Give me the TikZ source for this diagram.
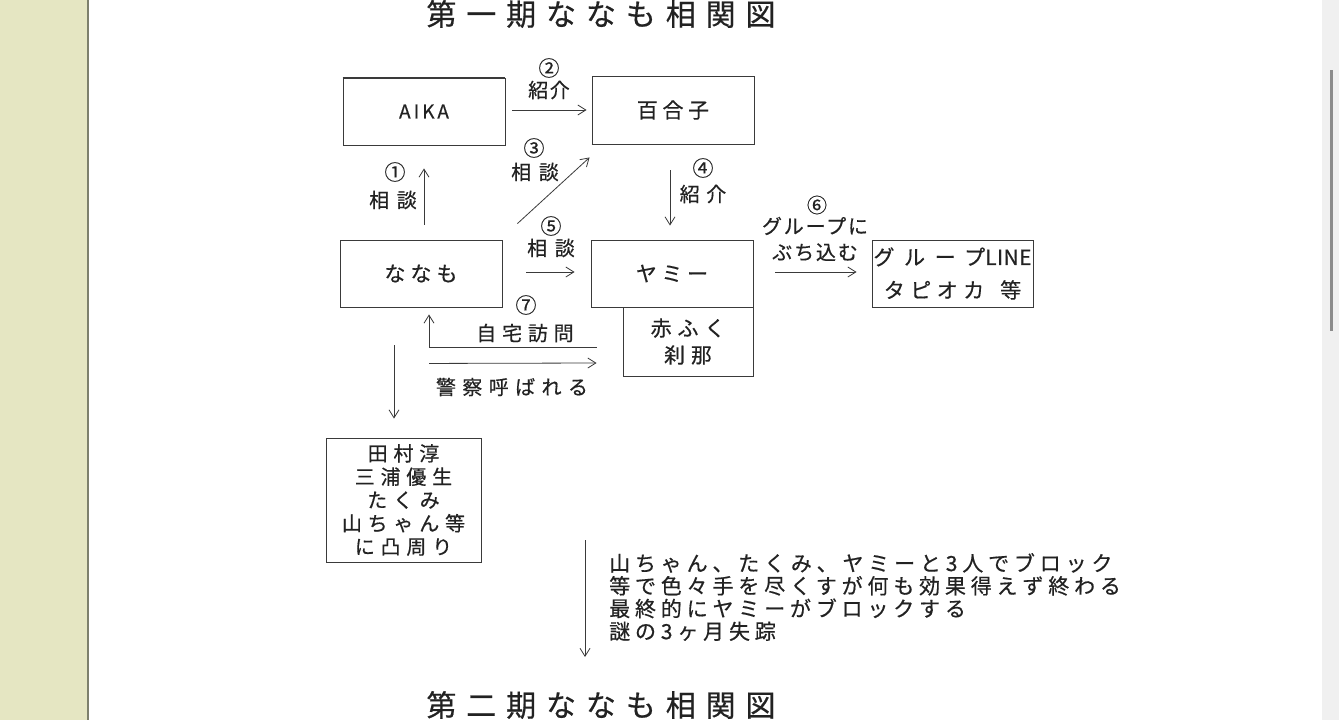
\documentclass[tikz,border=0pt]{standalone}
\usepackage{fontspec}
\setmainfont[FakeBold=0.5]{Noto Sans CJK JP}
\usetikzlibrary{arrows.meta,calc}
\definecolor{sidebar}{HTML}{E5E6C2}
\definecolor{sideline}{HTML}{7D806C}
\definecolor{scrollbg}{HTML}{F0F0F0}
\definecolor{thumb}{HTML}{8C8C8C}
\definecolor{ink}{HTML}{222222}
\definecolor{lineink}{HTML}{3A3A3A}
\newcommand\fsz[2]{\fontsize{#1}{#2}\selectfont}
\newcommand\lsp[1]{\addfontfeature{LetterSpace=#1}}
\begin{document}
\begin{tikzpicture}[x=1pt,y=-1pt,
  box/.style={draw=lineink, line width=0.9pt, inner sep=0pt, text=ink},
  num/.style={inner sep=0pt, text=ink, font=\fsz{21}{22}},
  lbl/.style={inner sep=0pt, text=ink},
  arr/.style={draw=lineink, line width=0.8pt, -{Straight Barb[length=8pt,width=10pt,line width=0.8pt]}}]
\useasboundingbox (0,0) rectangle (1339,720);
\fill[white] (0,0) rectangle (1339,720);
% window chrome
\fill[sidebar] (0,0) rectangle (87,720);
\fill[sideline] (87,0) rectangle (89,720);
\fill[scrollbg] (1322,0) rectangle (1339,720);
\fill[thumb] (1330,70) rectangle (1333,331);
% titles
\node[inner sep=0pt, text=ink, font=\fsz{30}{32}\lsp{33}] (title1) at (601,14) {第一期ななも相関図};
\node[inner sep=0pt, text=ink, font=\fsz{30}{32}\lsp{33}] (title2) at (601,705) {第二期ななも相関図};
% boxes
\node[box, minimum width=162pt, minimum height=67pt, font=\fsz{19}{20}\lsp{16}] (aika) at (424,111.5) {AIKA};
\node[box, minimum width=162pt, minimum height=68pt, font=\fsz{21}{22}\lsp{22}] (yuriko) at (673,110) {百合子};
\node[box, minimum width=162pt, minimum height=67pt, font=\fsz{21}{22}\lsp{24}] (nanamo) at (421,273.5) {ななも};
\node[box, minimum width=162pt, minimum height=67pt, font=\fsz{21}{22}\lsp{22}] (yami) at (672,273.5) {ヤミー};
\node[box, minimum width=130pt, minimum height=69pt, align=center, font=\fsz{21}{27}\lsp{28}] (akafuku) at (688,341.5) {赤ふく\\刹那};
\node[box, minimum width=161pt, minimum height=67pt, align=center, font=\fsz{21}{33}] (line) at (952.5,273.5) {{\lsp{46}グループ}{\lsp{2}LINE}\\{\lsp{26}タピオカ}\hspace{16pt}等};
\node[box, minimum width=155pt, minimum height=124pt, align=center, font=\fsz{20}{23.3}\lsp{29}] (tamura) at (403.5,500) {田村淳\\三浦優生\\たくみ\\山ちゃん等\\に凸周り};
\draw[lineink, line width=1.8pt] (aika.north west) -- (aika.north east);
\draw[lineink, line width=1.8pt] (yuriko.south west) -- (yuriko.south east);
% note
\node[anchor=west, align=left, inner sep=0pt, text=ink, font=\fsz{21}{22.7}\lsp{23}] (note) at (609,597) {山ちゃん、たくみ、ヤミーと3人でブロック\\等で色々手を尽くすが何も効果得えず終わる\\最終的にヤミーがブロックする\\謎の3ヶ月失踪};
% labels
\node[num] (n1) at (395,172) {①};
\node[lbl, font=\fsz{20}{22}\lsp{38}] (t1) at (393,200) {相談};
\node[num] (n2) at (549,68) {②};
\node[lbl, font=\fsz{20}{22}\lsp{8}] (t2) at (549,90) {紹介};
\node[num] (n3) at (534,148) {③};
\node[lbl, font=\fsz{20}{22}\lsp{38}] (t3) at (535,172) {相談};
\node[num] (n4) at (703,168) {④};
\node[lbl, font=\fsz{20}{22}\lsp{33}] (t4) at (703,194) {紹介};
\node[num] (n5) at (551,226) {⑤};
\node[lbl, font=\fsz{20}{22}\lsp{38}] (t5) at (551,248) {相談};
\node[num, font=\fsz{20}{22}] (n6) at (817,205) {⑥};
\node[lbl, align=center, font=\fsz{20}{26}\lsp{9}] (t6) at (815,239) {グループに\\ぶち込む};
\node[num] (n7) at (526,305) {⑦};
\node[lbl, font=\fsz{20}{22}\lsp{29}] (t7) at (525,333) {自宅訪問};
\node[lbl, font=\fsz{20}{22}\lsp{32}] (t8) at (512,387) {警察呼ばれる};
% connectors
\draw[arr] ($(aika.south |- nanamo.north)+(0,-15)$) -- ($(aika.south)+(0,23)$);
\draw[arr] ($(aika.east |- yuriko.west)+(7,0)$) -- ($(yuriko.west)+(-5,0)$);
\draw[arr] ($(nanamo.north east)+(15,-16)$) -- ($(yuriko.south west)+(-2,13)$);
\draw[arr] ($(yuriko.south)+(-3,26)$) -- ($(yami.north)+(-2,-14)$);
\draw[arr] ($(nanamo.east)+(24,-1.5)$) -- ($(yami.west)+(-16,-1.5)$);
\draw[arr] ($(yami.east)+(22,-1.5)$) -- ($(line.west)+(-15,-1.5)$);
\draw[arr] ($(akafuku.west)+(-26,5.5)$) -| ($(nanamo.south)+(8,7)$);
\draw[arr] ($(nanamo.south)+(8,56)$) -- ($(akafuku.west)+(-26,21.5)$);
\draw[arr] ($(nanamo.south)+(-27,38)$) -- ($(tamura.north)+(-9.5,-19)$);
\coordinate (bs) at (585,540);
\coordinate (be) at (585,657);
\draw[arr] (bs) -- (be);
\end{tikzpicture}
\end{document}
